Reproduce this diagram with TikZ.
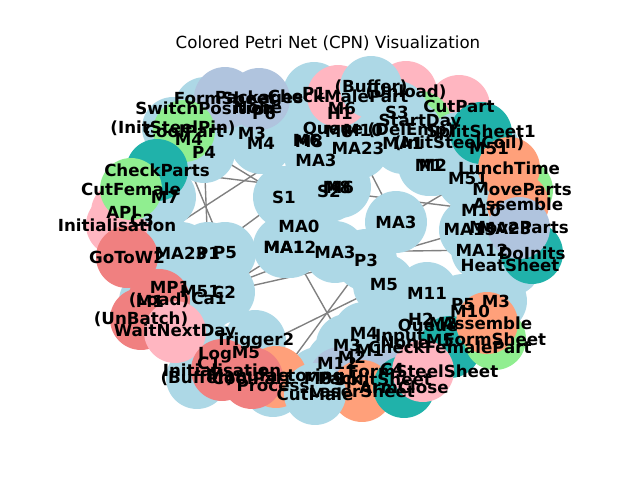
\documentclass[tikz,border=0pt]{standalone}
\usepackage{fontspec}
\setmainfont{DejaVu Sans}
\definecolor{lb}{HTML}{ADD8E6}
\definecolor{lp}{HTML}{FFB6C1}
\definecolor{lg}{HTML}{90EE90}
\definecolor{lc}{HTML}{F08080}
\definecolor{ls}{HTML}{FFA07A}
\definecolor{lsb}{HTML}{B0C4DE}
\definecolor{lsg}{HTML}{20B2AA}
\definecolor{edgegray}{HTML}{808080}
\begin{document}
\begin{tikzpicture}[x=0.72pt,y=-0.72pt,
  place/.style={circle,minimum size=44.6pt,inner sep=0pt,draw=none},
  lbl/.style={font=\bfseries\fontsize{12}{14}\selectfont,inner sep=0pt,text=black},
  arc/.style={draw=edgegray,line width=1pt},
  ttl/.style={font=\fontsize{12}{14}\selectfont,inner sep=0pt}]
\useasboundingbox (0,0) rectangle (640,480);
\node[ttl] (title) at (328,43) {Colored Petri Net (CPN) Visualization};
% node positions
\foreach \n/\x/\y in {
 c3/142/220, checkmale/338/96, unload/406/92, cutpart/459/106, startday/420/122,
 moveparts/522/190, api/122/212, initL/117/225,
 p1a/314/93, m6a/342/108, h1/340/113, s3/397/112, queue/333/130, m8a/339/131,
 m10a/363/130, delemp/411/131, ma1a/403/143, initcoil/459/143, m51a/489/149,
 ma23a/358/148, ma3a/316/160, m1a/429/165, m2a/433/165, m51b/468/179,
 m8b/337/187, m6c/340/187, s2/329/191, switchpos/205/108, none1/258/108, p6/264/113,
 m3a/252/133, m4a/261/143, m6b/307/140, m8c/309/141, initpin/173/128, m4b/189/139,
 p4/204/152, m7/165/197, s1/284/197, ma0/299/226, ma1b/284/247, ma12a/290/247,
 ma3b/396/222, ma3c/335/252, p3/366/260, ma23b/181/253, p1b/208/253, p5a/225/253,
 mp1/170/287, m1b/150/301, m51c/200/292, c2/224/292, ca1/209/298, m5a/384/285,
 m11/427/293, trigger2/255/341, log/215/355, m5b/246/353, c1/209/363,
 bufferB/197/378, process/273/386, m8d/318/378, m12a/337/363, m2b/352/357,
 m3b/347/345, m4c/364/333, m1c/370/350, input/400/337, none2/405/343,
 queue2/428/327, h2/421/319, m2c/443/323, m5c/440/341, c4/392/369,
 m3c/496/301, p5b/463/305, m10b/470/311, m10c/481/210, ma15/470/230,
 ma23c/505/228, ma12b/482/250, heatsheet/510/265,
 formsheetA/225/98, packages/259/99, coolpartA/184/131, checkparts/157/170,
 cutfemale/131/189, gotow2/127/257, load/159/300, unbatch/141/319,
 waitnext/175/332, splitsheet1/481/133, lunchtime/509/168, assembleA/518/204,
 doinits/532/253, parts/519/228, checkfemale/450/347, formsheetB/495/339,
 assembleB/487/323, pack/340/378, splitsheet/383/381, laser/362/391,
 armclose/404/387, formsteel/423/371, manuf/276/377, initB/222/370,
 coolB/252/378, bufferT/371/87, cutmale/315/394}
 \coordinate (\n) at (\x,\y);
% connectors
\foreach \a/\b in {initpin/p5a, m4b/s1, m6b/gotow2, checkparts/s2, p1b/s1,
 ca1/ma12a, c2/p3, ma12a/m2b, m5b/m5a, process/p3, s2/m10c, ma3b/m51b,
 ma3c/ma12b, p3/ma15, ma23a/ma3b, m11/heatsheet, p4/p1b, m3a/s1, unbatch/ma3b}
 \draw[arc] (\a) -- (\b);
% places
\foreach \n/\c in {
 c3/lb, unload/lp, cutpart/lp, startday/lg, moveparts/lg, api/lp, initL/lp,
 p1a/lb, m6a/lb, h1/lb, s3/lb, queue/lb, m8a/lb, m10a/lb, delemp/lb, ma1a/lb,
 initcoil/lb, m51a/lb, ma23a/lb, ma3a/lb, m1a/lb, m2a/lb, m51b/lb, m8b/lb, m6c/lb,
 s2/lb, switchpos/lb, none1/lb, p6/lb, m3a/lb, m4a/lb, m6b/lb, m8c/lb, initpin/lb,
 m4b/lb, p4/lb, m7/lb, s1/lb, ma0/lb, ma1b/lb, ma12a/lb, ma3b/lb, ma3c/lb, p3/lb,
 ma23b/lb, p1b/lb, p5a/lb, mp1/lb, m1b/lb, m51c/lb, c2/lb, ca1/lb, m5a/lb, m11/lb,
 trigger2/lb, log/lb, m5b/lb, c1/lb, bufferB/lb, process/lb, m8d/lb, m12a/lb,
 m2b/lb, m3b/lb, m4c/lb, m1c/lb, input/lb, none2/lb, queue2/lb, h2/lb, m2c/lb,
 m5c/lb, c4/lb, m3c/lb, p5b/lb, m10b/lb, m10c/lb, ma15/lb, ma23c/lb, ma12b/lb,
 heatsheet/lb, checkmale/lp,
 formsheetA/lsb, packages/lsb, coolpartA/lg, checkparts/lsg, cutfemale/lg,
 gotow2/lc, load/lc, unbatch/lc, waitnext/lp, splitsheet1/lsg, lunchtime/ls,
 assembleA/ls, doinits/lsg, parts/lsb, checkfemale/lsg, formsheetB/lg,
 assembleB/ls, pack/lsb, splitsheet/lsb, laser/ls, armclose/lsg, formsteel/lp,
 manuf/ls, initB/lc, coolB/lc, bufferT/lb, cutmale/lb}
 \node[place,fill=\c] (k-\n) at (\n) {};
% labels
\foreach \n/\t in {
 c3/C3, checkmale/CheckMalePart, unload/(Unload), cutpart/CutPart, startday/StartDay,
 moveparts/MoveParts, api/API, initL/Initialisation,
 p1a/P1, m6a/M6, h1/H1, s3/S3, queue/Queue, m8a/M8, m10a/M10, delemp/(DelEmp),
 ma1a/MA1, initcoil/(InitSteelCoil), m51a/M51, ma23a/MA23, ma3a/MA3, m1a/M1,
 m2a/M2, m51b/M51, m8b/M8, m6c/M6, s2/S2, switchpos/SwitchPosition, none1/None,
 p6/P6, m3a/M3, m4a/M4, m6b/M6, m8c/M8, initpin/(InitSteelPin), m4b/M4, p4/P4,
 m7/M7, s1/S1, ma0/MA0, ma1b/MA1, ma12a/MA12, ma3b/MA3, ma3c/MA3, p3/P3,
 ma23b/MA23, p1b/P1, p5a/P5, mp1/MP1, m1b/M1, m51c/M51, c2/C2, ca1/Ca1, m5a/M5,
 m11/M11, trigger2/Trigger2, log/Log, m5b/M5, c1/C1, bufferB/(Buffer),
 process/Process, m8d/M8, m12a/M12, m2b/M2, m3b/M3, m4c/M4, m1c/M1, input/Input,
 none2/None, queue2/Queue, h2/H2, m2c/M2, m5c/M5, c4/C4, m3c/M3, p5b/P5,
 m10b/M10, m10c/M10, ma15/MA15, ma23c/MA23, ma12b/MA12, heatsheet/HeatSheet,
 formsheetA/FormSheet, packages/Packages, coolpartA/CoolPart, checkparts/CheckParts,
 cutfemale/CutFemale, gotow2/GoToW2, load/(Load), unbatch/(UnBatch),
 waitnext/WaitNextDay, splitsheet1/SplitSheet1, lunchtime/LunchTime,
 assembleA/Assemble, doinits/DoInits, parts/MoveParts, checkfemale/CheckFemalePart,
 formsheetB/FormSheet, assembleB/Assemble, pack/Pack, splitsheet/SplitSheet,
 laser/LaserSheet, armclose/ArmClose, formsteel/FormSteelSheet,
 manuf/Manufactoring, initB/Initialisation, coolB/CoolPart, bufferT/(Buffer),
 cutmale/CutMale}
 \node[lbl] (t-\n) at (\n) {\t};
\end{tikzpicture}
\end{document}
